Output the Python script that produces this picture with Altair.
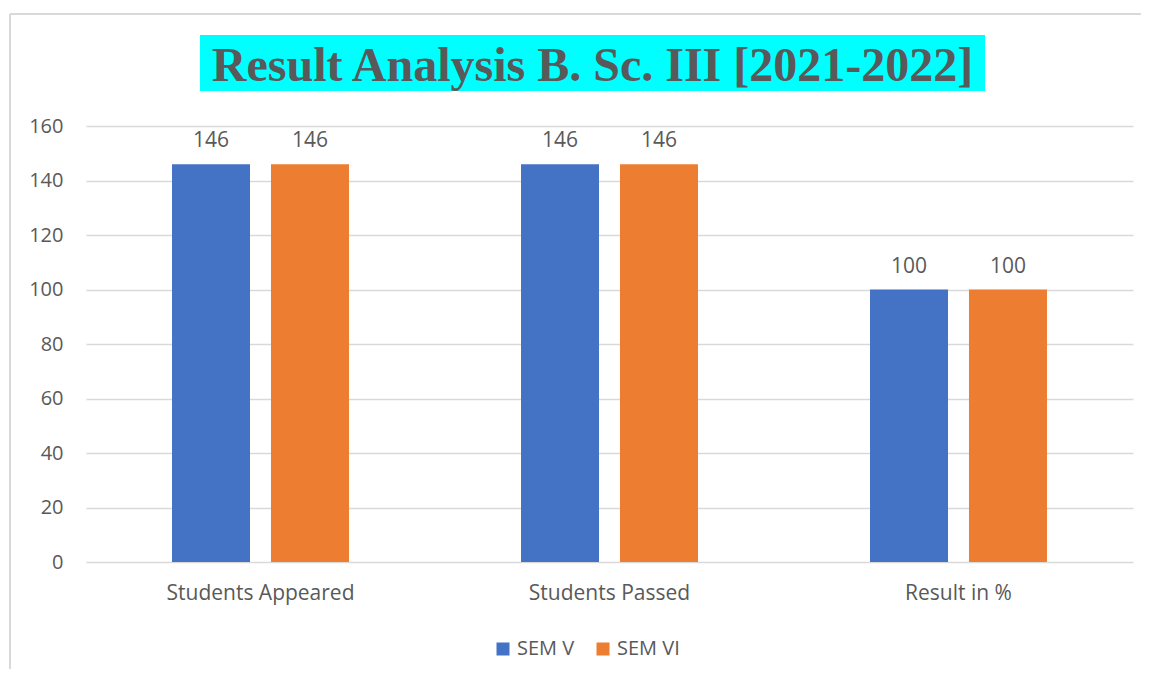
import altair as alt
import pandas as pd

categories = ["Students Appeared", "Students Passed", "Result in %"]
series = ["SEM V", "SEM VI"]
sem_v = [146, 146, 100]
sem_vi = [146, 146, 100]
title_text = "Result Analysis B. Sc. III [2021-2022]"
y_ticks = [0, 20, 40, 60, 80, 100, 120, 140, 160]

rows = []
for c, a, b in zip(categories, sem_v, sem_vi):
    rows.append({"category": c, "series": series[0], "value": a})
    rows.append({"category": c, "series": series[1], "value": b})
df = pd.DataFrame(rows)

W, H = 1047, 436
FONT = "Open Sans"
GREY = "#595959"

x = alt.X("category:N", sort=categories, title=None,
          scale=alt.Scale(paddingInner=0, paddingOuter=0),
          axis=alt.Axis(labelAngle=0, labelFont=FONT, labelFontSize=21,
                        labelColor=GREY, labelPadding=20, ticks=False,
                        labelLimit=0, domain=False, grid=False))
xoff = alt.XOffset("series:N", sort=series,
                   scale=alt.Scale(paddingInner=0.212, paddingOuter=0.869))
y = alt.Y("value:Q", title=None,
          scale=alt.Scale(domain=[0, 160], nice=False),
          axis=alt.Axis(values=y_ticks, labelFont=FONT, labelFontSize=20,
                        labelColor=GREY, labelPadding=23, ticks=False,
                        domain=False, gridColor="#d9d9d9", gridWidth=1.3))
color = alt.Color("series:N", sort=series, title=None,
                  scale=alt.Scale(domain=series, range=["#4472C4", "#ED7D31"]),
                  legend=alt.Legend(orient="none", legendX=407, legendY=513,
                                    direction="horizontal", symbolType="square",
                                    symbolSize=169, symbolStrokeWidth=0,
                                    labelFont=FONT, labelFontSize=20,
                                    labelColor=GREY, columnPadding=18,
                                    labelOffset=4))

base = alt.Chart(df)
one = pd.DataFrame({"k": [0]})

border_left = alt.Chart(one).mark_rule(color="#d9d9d9", strokeWidth=2).encode(
    x=alt.value(-76), y=alt.value(-112), y2=alt.value(560))
border_top = alt.Chart(one).mark_rule(color="#d9d9d9", strokeWidth=2).encode(
    y=alt.value(-112), x=alt.value(-76), x2=alt.value(1100))

title_bg = alt.Chart(one).mark_rect(
    fill="#00FFFF"
).encode(x=alt.value(114), x2=alt.value(899), y=alt.value(-91), y2=alt.value(-35))

title = alt.Chart(pd.DataFrame({"t": [title_text]})).mark_text(
    font="Liberation Serif", fontWeight="bold", fontSize=48, color=GREY,
    baseline="alphabetic", align="center"
).encode(x=alt.value(506.5), y=alt.value(-45), text="t:N")

bars = base.mark_bar().encode(x=x, xOffset=xoff, y=y, color=color)
labels = base.mark_text(font=FONT, fontSize=21, color=GREY, dy=-17,
                        baseline="alphabetic").encode(
    x=x, xOffset=xoff, y=y, text="value:Q")

chart = alt.layer(border_left, border_top, title_bg, title, bars, labels).properties(
    width=W, height=H,
    autosize=alt.AutoSizeParams(type="none"),
    padding={"left": 78, "top": 118, "right": 8, "bottom": 107},
).configure(background="white").configure_view(stroke=None)

chart.save("out.html", embed_options={"renderer": "svg", "actions": False})
